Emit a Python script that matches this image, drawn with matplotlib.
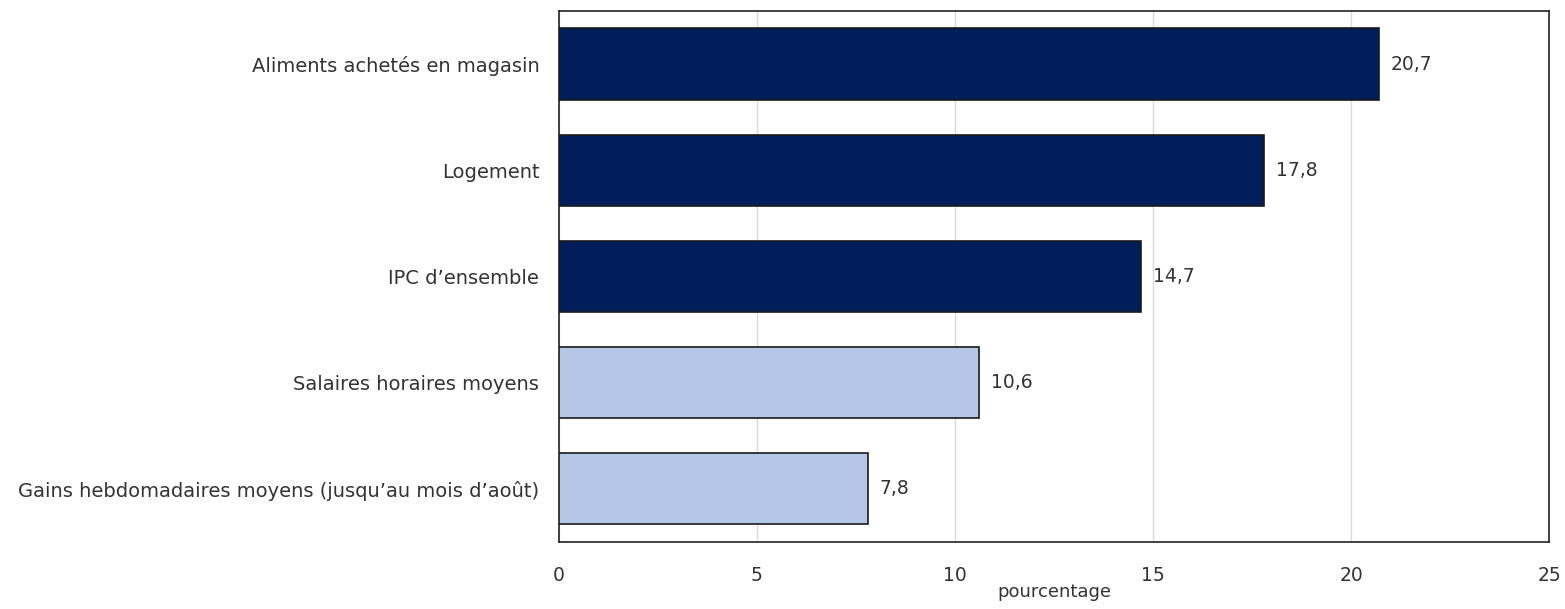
import matplotlib.pyplot as plt

# Categories, top to bottom
categories = [
    "Aliments achetés en magasin",
    "Logement",
    "IPC d\u2019ensemble",
    "Salaires horaires moyens",
    "Gains hebdomadaires moyens (jusqu\u2019au mois d\u2019août)",
]
values = [20.7, 17.8, 14.7, 10.6, 7.8]
value_labels = ["20,7", "17,8", "14,7", "10,6", "7,8"]
bar_colors = ["#001E5A", "#001E5A", "#001E5A", "#B4C7E7", "#B4C7E7"]
x_ticks = [0, 5, 10, 15, 20, 25]

fig = plt.figure(figsize=(15.65, 6.09), dpi=100)
ax = fig.add_axes([0.357, 0.110, 0.633, 0.872])

ypos = list(range(len(categories)))
ax.barh(ypos, values, height=0.67, color=bar_colors, edgecolor="#1a1a1a", linewidth=1.2, zorder=3)

for y, v, lab in zip(ypos, values, value_labels):
    ax.text(v + 0.3, y, lab, va="center", ha="left", fontsize=13.5, color="#333333")

ax.set_yticks(ypos)
ax.set_yticklabels(categories, fontsize=14, color="#333333")
ax.set_ylim(len(categories) - 0.5, -0.5)

ax.set_xlim(0, 25)
ax.set_xticks(x_ticks)
ax.set_xticklabels([str(t) for t in x_ticks], fontsize=13.5, color="#333333")
ax.set_xlabel("pourcentage", fontsize=13, color="#333333", labelpad=-1)

ax.tick_params(axis="x", length=0, pad=17)
ax.tick_params(axis="y", length=0, pad=14)
ax.grid(axis="x", color="#d9d9d9", linewidth=1, zorder=0)
for s in ax.spines.values():
    s.set_color("#222222")
    s.set_linewidth(1.2)

fig.savefig("out.png", dpi=100)
